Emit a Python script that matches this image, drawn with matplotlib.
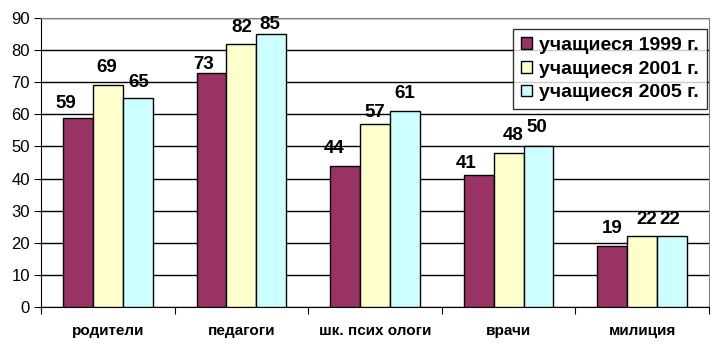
import numpy as np
import matplotlib.pyplot as plt

plt.rcParams['font.family'] = ['Liberation Sans', 'DejaVu Sans']

categories = ['родители', 'педагоги', 'шк. псих ологи', 'врачи', 'милиция']
series_names = ['учащиеся 1999 г.', 'учащиеся 2001 г.', 'учащиеся 2005 г.']
vals_1999 = [59, 73, 44, 41, 19]
vals_2001 = [69, 82, 57, 48, 22]
vals_2005 = [65, 85, 61, 50, 22]
colors = ['#993366', '#FFFFCC', '#CCFFFF']

# label nudges in pixels (dx, gap above bar top), per series
label_dx = [[-12, -8, -11, -13, 0], [-1, 0, 0, 5, 5], [1, -1, 0, -2, -2]]
label_gap = [[10, 4, 13, 7, 13], [13, 12, 7, 13, 12], [11, 5, 13, 14, 12]]

fig = plt.figure(figsize=(7.25, 3.47), dpi=100)
ax = fig.add_axes([41 / 725, 1 - 307 / 347, 668 / 725, 289 / 347])

x = np.arange(len(categories))
w = 0.2233
for i, (vals, name, c) in enumerate(zip([vals_1999, vals_2001, vals_2005], series_names, colors)):
    pos = x + (i - 1) * w
    ax.bar(pos, vals, width=w, color=c, edgecolor='black', linewidth=1, label=name, zorder=3)
    for j, (p, v) in enumerate(zip(pos, vals)):
        ax.annotate(str(v), (p, v), xytext=(label_dx[i][j], label_gap[i][j]),
                    textcoords='offset pixels', ha='center', va='baseline',
                    fontsize=13.5, fontweight='bold', zorder=4, annotation_clip=False)

ax.set_xlim(-0.5, len(categories) - 0.5)
ax.set_ylim(0, 90)
ax.set_yticks(range(0, 91, 10))
ax.yaxis.grid(True, color='black', linewidth=1, zorder=0)
ax.set_xticks(np.arange(-0.5, len(categories), 1.0))
ax.set_xticklabels([])
ax.set_xticks(x, minor=True)
ax.set_xticklabels(categories, minor=True, fontsize=11, fontweight='bold')
ax.tick_params(axis='x', which='minor', length=0, pad=12)
ax.tick_params(axis='x', which='major', length=5, direction='out')
ax.tick_params(axis='y', length=5, direction='out', labelsize=12, pad=3)

ax.spines['top'].set_color('#808080')
ax.spines['right'].set_color('#808080')
ax.spines['right'].set_linestyle((0, (1, 1)))

leg = ax.legend(loc='upper right', bbox_to_anchor=(0.997, 0.962), frameon=True, fancybox=False,
                edgecolor='black', prop={'weight': 'bold', 'size': 14},
                handlelength=0.55, handleheight=0.55, handletextpad=0.4,
                borderpad=0.4, labelspacing=0.35, borderaxespad=0.0)
leg.get_frame().set_linewidth(1)

fig.savefig('out.png', dpi=100)
